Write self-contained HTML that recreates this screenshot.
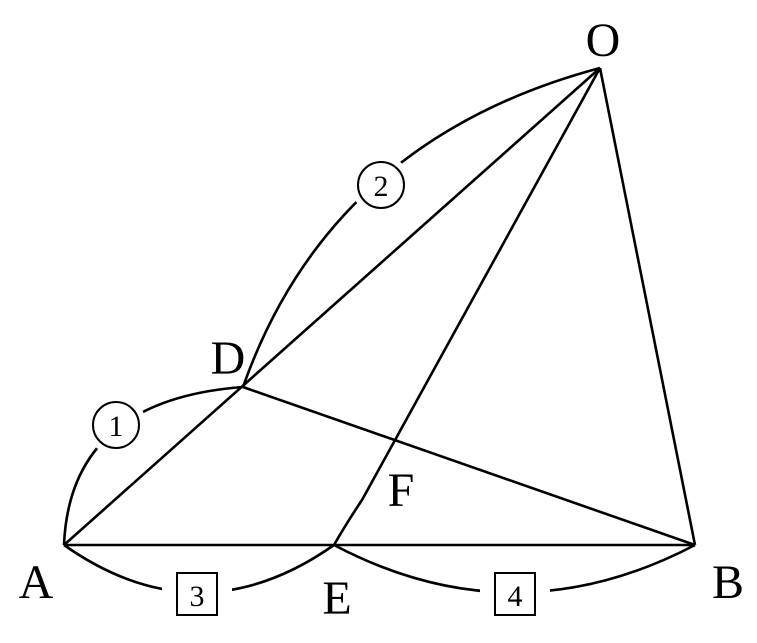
<!DOCTYPE html>
<html><head><style>
html,body{margin:0;padding:0;background:#fff;}
svg{display:block;}
text{font-family:"Liberation Serif",serif;fill:#000;}
</style></head><body>
<svg width="757" height="643" viewBox="0 0 757 643" xmlns="http://www.w3.org/2000/svg">
<g fill="none" stroke="#000" stroke-width="2.6" stroke-linejoin="round">
<path d="M64,545 Q70,400 243,387"/>
<path d="M243,387 Q330,140 600,68"/>
<path d="M64,545 Q199,640 334,545"/>
<path d="M334,545 Q514,640 695,545"/>
<line x1="64" y1="545" x2="695" y2="545"/>
<line x1="64" y1="545" x2="600" y2="68"/>
<line x1="600" y1="68" x2="695" y2="545"/>
<line x1="243" y1="387" x2="695" y2="545"/>
<path d="M600,68 L362,500 Q346,524 334,545"/>
</g>
<circle cx="116" cy="425" r="30" fill="#fff"/>
<circle cx="381" cy="185" r="30" fill="#fff"/>
<rect x="162" y="575" width="70" height="40" fill="#fff"/>
<rect x="480" y="575" width="70" height="40" fill="#fff"/>
<g fill="none" stroke="#000" stroke-width="2">
<circle cx="116" cy="425" r="23"/>
<circle cx="381" cy="185" r="23"/>
<rect x="177" y="573" width="40" height="42"/>
<rect x="495" y="573" width="40" height="42"/>
</g>
<g font-size="30" text-anchor="middle">
<text x="116" y="436">1</text>
<text x="381" y="196">2</text>
<text x="197" y="606">3</text>
<text x="515" y="606">4</text>
</g>
<g font-size="48" text-anchor="middle">
<text x="603" y="56">O</text>
<text x="228" y="374">D</text>
<text x="36" y="598">A</text>
<text x="337" y="614">E</text>
<text x="728" y="598">B</text>
<text x="401" y="506">F</text>
</g>
</svg>
</body></html>
